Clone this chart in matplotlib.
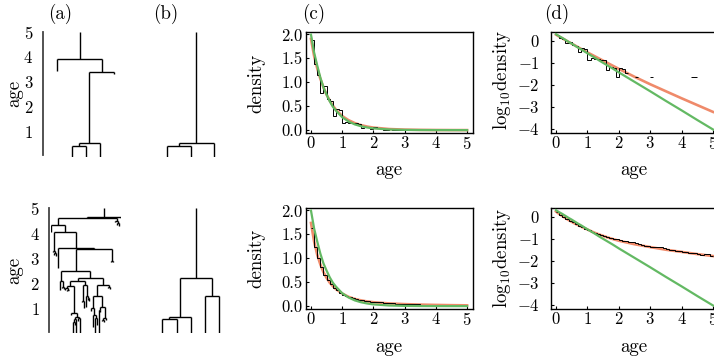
import numpy as np
import matplotlib.pyplot as plt

plt.rcParams['font.family'] = 'serif'
plt.rcParams['font.serif'] = ['cmr10']
plt.rcParams['mathtext.fontset'] = 'cm'
plt.rcParams['axes.formatter.use_mathtext'] = True

# trees as (age, [children]); a leaf's age is when it went extinct (0 = alive today)
tree_a_top = (3.9, [(3.43, []),
                    (3.37, [(0.53, [(0.44, [(0, []), (0, [])]), (0, [])]), (3.3, [])])])
tree_b_top = (0.53, [(0.44, [(0, []), (0, [])]), (0, [])])

left_clade = (0.8, [(0.72, []),
                    (0.67, [(0.57, [(0.45, [(0, []), (0.35, [])]), (0, [])]),
                            (0.6, [(0.5, []), (0, [])])])])
mid_clade = (1.95, [(1.3, [(1.25, []), (1.0, [])]),
                    (1.5, [(1.07, []), (1.4, [(1.35, []), (1.3, [])])])])
right_clade = (1.49, [(1.0, [(0.9, []), (0.75, [(0.27, []), (0.6, [(0, []), (0.35, [])])])]),
                      (1.04, [(0.95, [(0, []), (0.85, [])]),
                              (0.6, [(0.53, [(0.5, []), (0.45, [])]), (0.55, [])])])])
crown = (2.2, [(2.09, [(1.9, [(1.8, [(1.72, []), (1.75, [(1.7, []), (1.73, [])])]), left_clade]),
                       mid_clade]),
               (1.93, [right_clade, (1.85, [(1.8, []), (1.78, [])])])])
tree_a_bottom = (4.65, [
    (4.63, [
        (4.33, [
            (4.07, []),
            (4.04, [
                (3.3, [(3.25, []), (3.2, [(3.15, []), (3.1, [])])]),
                (3.4, [(2.63, []),
                       (3.39, [(2.5, [(2.1, [(1.75, []), (1.85, [(1.8, []), (1.78, [])])]), crown]),
                               (2.9, [(2.85, []), (2.84, [])])])])])]),
        (4.5, [(4.47, []), (4.42, [(4.35, []), (4.3, [])])])]),
    (4.6, [])])
tree_b_bottom = (2.2, [(0.67, [(0.57, [(0, []), (0, [])]), (0, [])]),
                       (1.49, [(0, []), (0, [])])])

# age distributions
curve_age = [0, 0.1, 0.2, 0.3, 0.4, 0.5, 0.6, 0.7, 0.8, 1.0, 1.2, 1.4, 1.6, 1.8, 2.0,
             2.5, 3.0, 3.5, 4.0, 4.5, 5.0]
green_log = [0.30, 0.21, 0.13, 0.04, -0.05, -0.13, -0.22, -0.31, -0.39, -0.57, -0.74,
             -0.92, -1.09, -1.26, -1.44, -1.87, -2.30, -2.74, -3.17, -3.61, -4.04]
red_log_top = [0.28, 0.19, 0.11, 0.03, -0.05, -0.13, -0.21, -0.29, -0.37, -0.53, -0.68,
               -0.83, -0.98, -1.13, -1.28, -1.64, -1.98, -2.30, -2.62, -2.93, -3.24]
red_log_bottom = [0.24, 0.13, 0.03, -0.06, -0.15, -0.23, -0.31, -0.38, -0.45, -0.58, -0.71,
                  -0.82, -0.92, -1.01, -1.09, -1.25, -1.38, -1.50, -1.60, -1.70, -1.79]

hist_edges = np.linspace(0, 5, 51)
hist_top = [1.88, 1.39, 1.15, 0.78, 0.92, 0.66, 0.60, 0.30, 0.45, 0.42,
            0.14, 0.17, 0.15, 0.15, 0.14, 0.13, 0.046, 0.065, 0.06, 0.023,
            0.055, 0.05, 0.035, 0, 0, 0.023, 0, 0, 0, 0,
            0.023, 0, 0, 0, 0, 0, 0, 0, 0, 0,
            0, 0, 0, 0.023, 0.023, 0, 0, 0, 0, 0]
hist_log_bottom = [0.21, 0.09, 0.00, -0.09, -0.18, -0.26, -0.34, -0.41, -0.48, -0.55,
                   -0.62, -0.68, -0.74, -0.78, -0.82, -0.86, -0.91, -0.95, -0.99, -1.03,
                   -1.06, -1.09, -1.10, -1.13, -1.15, -1.20, -1.24, -1.27, -1.31, -1.34,
                   -1.36, -1.39, -1.38, -1.37, -1.42, -1.47, -1.50, -1.52, -1.55, -1.57,
                   -1.59, -1.62, -1.64, -1.66, -1.65, -1.69, -1.72, -1.69, -1.68, -1.77]

green = '#63b963'
red = '#ef8a6a'

W, H = 714, 359
fig = plt.figure(figsize=(W / 100, H / 100), dpi=100)


def add_px(left, top, width, height):
    return fig.add_axes([left / W, 1 - (top + height) / H, width / W, height / H])


def count_leaves(node):
    if not node[1]:
        return 1
    return sum(count_leaves(c) for c in node[1])


def draw_node(ax, node, parent_age, next_leaf):
    age, children = node
    if not children:
        x = next_leaf[0]
        next_leaf[0] += 1
    else:
        xs = [draw_node(ax, c, age, next_leaf) for c in children]
        x = (xs[0] + xs[-1]) / 2
        ax.hlines(age, xs[0], xs[-1], color='k', lw=1.0)
    ax.vlines(x, age, parent_age, color='k', lw=1.0)
    return x


def draw_tree(ax, tree, with_axis, offset=0, pad=0.5):
    n = count_leaves(tree)
    draw_node(ax, tree, 5.0, [1])
    ax.set_xlim(1 - pad, n + pad)
    ax.set_ylim(0, 5)
    for s in ['top', 'right', 'bottom']:
        ax.spines[s].set_visible(False)
    ax.set_xticks([])
    if with_axis:
        ax.spines['left'].set_position(('outward', offset))
        ax.spines['left'].set_bounds(0.05, 5)
        ax.spines['left'].set_color('#444444')
        ax.spines['left'].set_linewidth(1.3)
        ax.set_yticks([1, 2, 3, 4, 5])
        ax.tick_params(axis='y', length=0, pad=7, labelsize=12)
    else:
        ax.spines['left'].set_visible(False)
        ax.set_yticks([])
    ax.patch.set_visible(False)


ax = add_px(50.2, 31.7, 71.4, 125)
draw_tree(ax, tree_a_top, True, 5.2)
ax = add_px(154.8, 31.7, 71.4, 125)
draw_tree(ax, tree_b_top, False)
ax = add_px(50.7, 208.3, 70, 125)
draw_tree(ax, tree_a_bottom, True, 1.0, pad=0)
ax = add_px(155.2, 208.3, 71.2, 125)
draw_tree(ax, tree_b_bottom, False)


def style_box(ax, ypad):
    for s in ax.spines.values():
        s.set_linewidth(1.0)
    ax.set_xlim(-0.16, 5.19)
    ax.set_xticks([0, 1, 2, 3, 4, 5])
    ax.tick_params(direction='in', length=2.5, width=0.8, labelsize=12)
    ax.tick_params(axis='x', pad=1.5)
    ax.tick_params(axis='y', pad=ypad)


for row, top in enumerate([32, 208]):
    red_log = red_log_top if row == 0 else red_log_bottom
    if row == 0:
        hist_d = np.array(hist_top)
        hist_l = np.full(hist_d.shape, np.nan)
        hist_l[hist_d > 0] = np.log10(hist_d[hist_d > 0])
    else:
        hist_l = np.array(hist_log_bottom)
        hist_d = 10 ** hist_l

    axc = add_px(306, top, 167, 101)
    axc.plot(curve_age, 10 ** np.array(red_log), color=red, lw=1.9, zorder=2)
    axc.stairs(hist_d, hist_edges, color='k', lw=0.7, baseline=None, zorder=2.5)
    axc.plot(curve_age, 10 ** np.array(green_log), color=green, lw=1.6, zorder=3)
    axc.set_ylim(-0.06, 2.05)
    axc.set_yticks([0, 0.5, 1.0, 1.5, 2.0])
    axc.set_yticklabels(['0.0', '0.5', '1.0', '1.5', '2.0'])
    style_box(axc, 2.5)

    axd = add_px(551, top, 168, 101)
    axd.plot(curve_age, red_log, color=red, lw=1.9, zorder=2)
    axd.stairs(hist_l, hist_edges, color='k', lw=0.7, baseline=None, zorder=2.5)
    axd.plot(curve_age, green_log, color=green, lw=1.6, zorder=3)
    axd.set_ylim(-4.2, 0.4)
    axd.set_yticks([0, -1, -2, -3, -4])
    style_box(axd, 8)

fs = 13.6
for x, label in [(60, '(a)'), (165.7, '(b)'), (313.3, '(c)'), (556.7, '(d)')]:
    fig.text(x / W, 1 - 14 / H, label, ha='center', va='center', fontsize=fs)
for yc in [93, 270]:
    fig.text(14 / W, 1 - yc / H, 'age', rotation=90, ha='center', va='center', fontsize=fs)
for yc, ycl in [(83, 80), (258, 258)]:
    fig.text(256 / W, 1 - yc / H, 'density', rotation=90, ha='center', va='center', fontsize=fs)
    fig.text(501.7 / W, 1 - ycl / H, r'$\mathrm{log}_{10}$density', rotation=90,
             ha='center', va='center', fontsize=fs)
for yc in [170, 346.7]:
    fig.text(389.3 / W, 1 - yc / H, 'age', ha='center', va='center', fontsize=fs)
    fig.text(634 / W, 1 - yc / H, 'age', ha='center', va='center', fontsize=fs)

fig.savefig('out.png', dpi=100)
